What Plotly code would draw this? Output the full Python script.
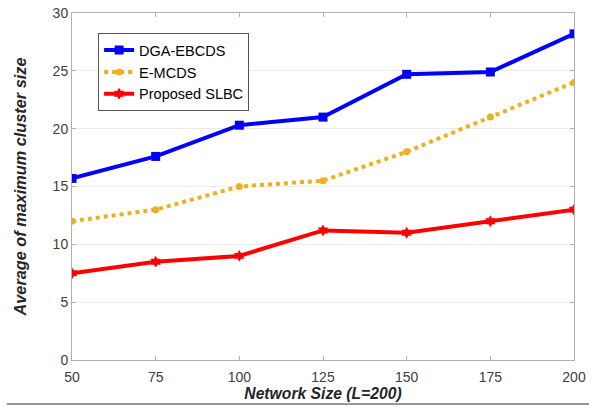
import plotly.graph_objects as go

network_size = [50, 75, 100, 125, 150, 175, 200]
dga_ebcds = [15.7, 17.6, 20.3, 21.0, 24.7, 24.9, 28.2]
e_mcds = [12.0, 13.0, 15.0, 15.5, 18.0, 21.0, 24.0]
proposed_slbc = [7.5, 8.5, 9.0, 11.2, 11.0, 12.0, 13.0]
y_ticks = [0, 5, 10, 15, 20, 25, 30]

fig = go.Figure()
fig.add_trace(go.Scatter(
    x=network_size, y=dga_ebcds, name="DGA-EBCDS", mode="lines+markers",
    line=dict(color="#0000ff", width=4),
    marker=dict(symbol="square", size=9, color="#0000ff"),
))
fig.add_trace(go.Scatter(
    x=network_size, y=e_mcds, name="E-MCDS", mode="lines+markers",
    line=dict(color="#edb120", width=4, dash="dot"),
    marker=dict(symbol="circle", size=7, color="#edb120"),
))
fig.add_trace(go.Scatter(
    x=network_size, y=proposed_slbc, name="Proposed SLBC", mode="lines+markers",
    line=dict(color="#ff0000", width=4),
    marker=dict(symbol="hexagram", size=9, color="#ff0000"),
))

axis_common = dict(
    showline=True, linecolor="#b0b0b0", linewidth=1, mirror="ticks",
    ticks="inside", ticklen=4, tickcolor="#b0b0b0",
    tickfont=dict(family="Liberation Sans, Arial", size=14, color="#404040"),
    zeroline=False, automargin=False,
)

fig.update_layout(
    width=594, height=408,
    margin=dict(l=72, r=20, t=13, b=48),
    paper_bgcolor="white", plot_bgcolor="white",
    xaxis=dict(
        range=[50, 200], tickvals=network_size, showgrid=False,
        ticklabelstandoff=4,
        title=dict(text="<b><i>Network Size (L=200)</i></b>", standoff=2,
                   font=dict(family="Liberation Sans, Arial", size=15.7, color="#262626")),
        **axis_common,
    ),
    yaxis=dict(
        range=[0, 30], tickvals=y_ticks, showgrid=True, gridcolor="#ececec",
        title=dict(text="<b><i>Average of maximum cluster size</i></b>", standoff=21,
                   font=dict(family="Liberation Sans, Arial", size=16.3, color="#262626")),
        **axis_common,
    ),
    legend=dict(
        x=0.052, y=0.942, xanchor="left", yanchor="top",
        bgcolor="white", bordercolor="#555555", borderwidth=1,
        font=dict(family="Liberation Sans, Arial", size=14.5, color="#000000"),
        tracegroupgap=0, itemwidth=30,
    ),
    showlegend=True,
)

# separator rule under the chart
fig.add_shape(type="line", xref="paper", yref="paper",
              x0=-0.13, x1=1.03, y0=-0.127, y1=-0.127,
              line=dict(color="#999999", width=2))

fig.write_html("out.html")
